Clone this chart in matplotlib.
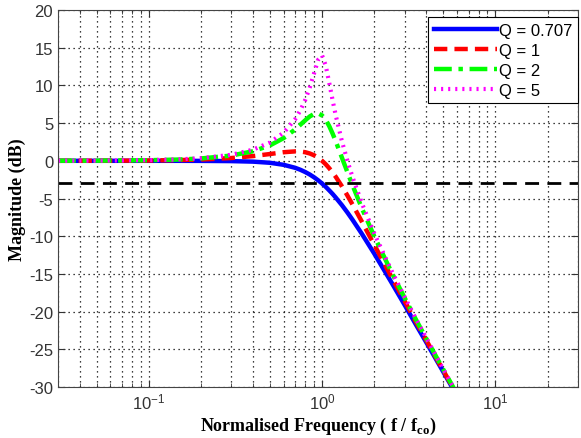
import matplotlib
matplotlib.use("Agg")
import matplotlib.pyplot as plt

plt.rcParams['font.family'] = ['Liberation Sans', 'DejaVu Sans']
plt.rcParams['mathtext.fontset'] = 'custom'
plt.rcParams['mathtext.bf'] = 'Liberation Serif:bold'
plt.rcParams['mathtext.rm'] = 'Liberation Sans'
plt.rcParams['axes.unicode_minus'] = False

# normalised frequency f / fco
freq = [0.03, 0.05, 0.1, 0.15, 0.2, 0.3, 0.4, 0.5, 0.6, 0.7, 0.75, 0.8, 0.85,
        0.9, 0.95, 1.0, 1.05, 1.1, 1.15, 1.2, 1.3, 1.4, 1.5, 1.7, 2.0, 2.5,
        3.0, 3.5, 4.0, 4.5, 5.0, 5.5, 6.0]

# magnitude (dB) for each Q
mag_q0707 = [0.0, 0.0, 0.0, 0.0, -0.01, -0.04, -0.11, -0.26, -0.53, -0.93, -1.19,
             -1.49, -1.82, -2.19, -2.59, -3.01, -3.45, -3.92, -4.39, -4.88, -5.86,
             -6.85, -7.83, -9.71, -12.3, -16.03, -19.14, -21.82, -24.1, -26.14,
             -27.97, -29.62, -31.13]
mag_q1 = [0.0, 0.01, 0.04, 0.1, 0.17, 0.37, 0.63, 0.9, 1.14, 1.25, 1.23, 1.14,
          0.97, 0.73, 0.4, 0.0, -0.46, -0.98, -1.54, -2.13, -3.36, -4.6, -5.81,
          -8.1, -11.14, -15.29, -18.63, -21.46, -23.82, -25.92, -27.79, -29.47,
          -31.01]
mag_q2 = [0.01, 0.02, 0.08, 0.17, 0.31, 0.7, 1.27, 2.04, 3.01, 4.17, 4.79, 5.38,
          5.89, 6.22, 6.29, 6.02, 5.43, 4.6, 3.62, 2.57, 0.46, -1.5, -3.27, -6.33,
          -10.0, -14.64, -18.21, -21.16, -23.6, -25.75, -27.65, -29.36, -30.91]
mag_q5 = [0.01, 0.02, 0.09, 0.19, 0.35, 0.8, 1.48, 2.42, 3.73, 5.53, 6.7, 8.09,
          9.75, 11.64, 13.41, 13.98, 12.63, 10.34, 8.04, 6.0, 2.65, 0.0, -2.18,
          -5.67, -9.62, -14.44, -18.09, -21.07, -23.53, -25.7, -27.61, -29.33,
          -30.89]

cutoff_db = -3
x_range = [0.03, 30]

fig = plt.figure(figsize=(5.81, 4.39), dpi=100)
ax = fig.add_axes([0.1, 0.116, 0.895, 0.859])

ax.semilogx(freq, mag_q0707, color='#0000ff', lw=3.2, label='Q = 0.707')
ax.semilogx(freq, mag_q1, color='#ff0000', lw=3.2, ls=(0, (3, 1.6)), label='Q = 1')
ax.semilogx(freq, mag_q2, color='#00ff00', lw=3.2, ls=(0, (4, 1.5, 1, 1.5)), label='Q = 2')
ax.semilogx(freq, mag_q5, color='#ff00ff', lw=3.0, ls=(0, (0.5, 1.2)), label='Q = 5')
ax.plot(x_range, [cutoff_db, cutoff_db], color='black', lw=2, ls=(0, (5, 3)))

ax.set_xlim(x_range)
ax.set_ylim(-30, 20)
ax.set_yticks(range(-30, 21, 5))

ax.grid(True, which='major', ls=(0, (1, 3)), color='black', lw=0.9)
ax.grid(True, which='minor', axis='x', ls=(0, (1, 3)), color='black', lw=0.9)
ax.tick_params(which='both', direction='in', top=True, right=True,
               labelsize=12, colors='#333333')
ax.tick_params(which='major', length=5)
ax.tick_params(which='minor', length=3)
for s in ax.spines.values():
    s.set_color('#444444')

ax.set_xlabel(r'Normalised Frequency ( f / f$_\mathbf{co}$)',
              family='Liberation Serif', fontweight='bold', fontsize=13, labelpad=2)
ax.set_ylabel('Magnitude (dB)', family='Liberation Serif', fontweight='bold',
              fontsize=13, labelpad=2)

leg = ax.legend(loc='upper right', bbox_to_anchor=(1.0, 0.982), fontsize=12,
                handlelength=3.8, handletextpad=0.1, borderaxespad=0.0,
                labelspacing=0.3, borderpad=0.35, fancybox=False, framealpha=1)
leg.get_frame().set_edgecolor('black')
leg.get_frame().set_linewidth(0.8)

fig.savefig('out.png', dpi=100)
